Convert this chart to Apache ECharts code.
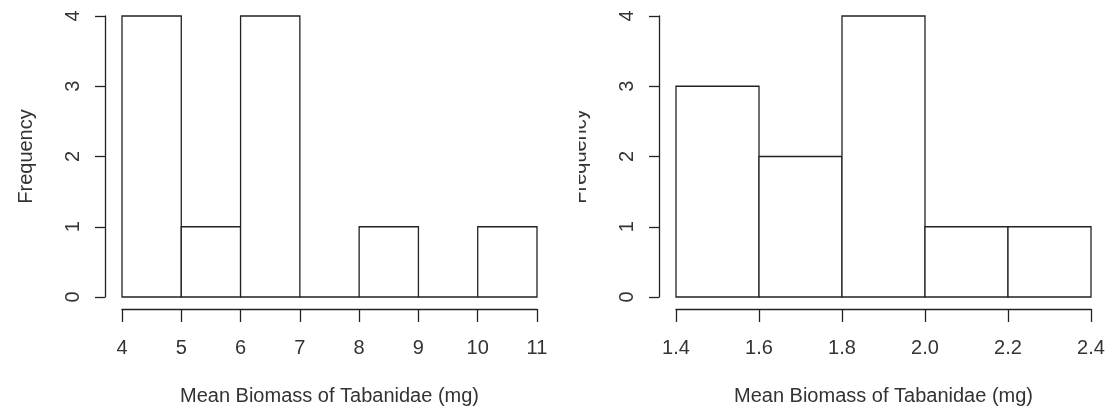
<!DOCTYPE html>
<html>
<head>
<meta charset="utf-8">
<script src="https://cdn.jsdelivr.net/npm/echarts@6/dist/echarts.min.js"></script>
<style>html,body{margin:0;padding:0;background:#fff}#c{width:1112px;height:414px}</style>
</head>
<body>
<div id="c"></div>
<script>
var leftBreaks = [4, 5, 6, 7, 8, 9, 10, 11];
var leftCounts = [4, 1, 4, 0, 1, 0, 1];
var rightBreaks = [1.4, 1.6, 1.8, 2.0, 2.2, 2.4];
var rightCounts = [3, 2, 4, 1, 1];
var yTicks = [0, 1, 2, 3, 4];
var xTitle = 'Mean Biomass of Tabanidae (mg)';
var yTitle = 'Frequency';

function toRects(breaks, counts) {
  var out = [];
  for (var i = 0; i < counts.length; i++) out.push([breaks[i], breaks[i + 1], counts[i]]);
  return out;
}
var txt = '#333';
var ln = '#222';
var font = 'Liberation Sans, Arial, sans-serif';

function renderRect(params, api) {
  var p0 = api.coord([api.value(0), 0]);
  var p1 = api.coord([api.value(1), api.value(2)]);
  return {
    type: 'rect',
    shape: { x: p0[0], y: p1[1], width: p1[0] - p0[0], height: p0[1] - p1[1] },
    style: { fill: '#fff', stroke: ln, lineWidth: 1.3 }
  };
}

function xAx(idx, breaks, interval, dec) {
  return {
    type: 'value', gridIndex: idx,
    min: breaks[0], max: breaks[breaks.length - 1], interval: interval,
    offset: 12,
    name: xTitle, nameLocation: 'middle', nameGap: 77,
    nameTextStyle: { color: txt, fontSize: 20, fontFamily: font },
    axisLine: { show: true, onZero: false, lineStyle: { color: ln, width: 1.3 } },
    axisTick: { show: true, length: 13, lineStyle: { color: ln, width: 1.3 } },
    axisLabel: { color: txt, fontSize: 20, fontFamily: font, margin: 29,
      formatter: function (v) { return dec ? v.toFixed(dec) : String(Math.round(v)); } },
    splitLine: { show: false }
  };
}
function yAx(idx) {
  return {
    type: 'value', gridIndex: idx,
    min: yTicks[0], max: yTicks[yTicks.length - 1], interval: 1,
    offset: 17,
    name: yTitle, nameLocation: 'middle', nameGap: 69, nameRotate: 90,
    nameTextStyle: { color: txt, fontSize: 20, fontFamily: font },
    axisLine: { show: true, onZero: false, lineStyle: { color: ln, width: 1.3 } },
    axisTick: { show: true, length: 10, lineStyle: { color: ln, width: 1.3 } },
    axisLabel: { color: txt, fontSize: 20, fontFamily: font, margin: 22, rotate: 90 },
    splitLine: { show: false }
  };
}

var chart = echarts.init(document.getElementById('c'), null, { renderer: 'canvas' });
chart.setOption({
  animation: false,
  backgroundColor: '#fff',
  grid: [
    { left: 122, width: 415, top: 16, height: 281 },
    { left: 676, width: 415, top: 16, height: 281 }
  ],
  xAxis: [xAx(0, leftBreaks, 1, 0), xAx(1, rightBreaks, 0.2, 1)],
  yAxis: [yAx(0), yAx(1)],
  series: [
    { type: 'custom', xAxisIndex: 0, yAxisIndex: 0, renderItem: renderRect, data: toRects(leftBreaks, leftCounts), clip: false },
    { type: 'custom', xAxisIndex: 1, yAxisIndex: 1, renderItem: renderRect, data: toRects(rightBreaks, rightCounts), clip: false }
  ],
  graphic: [
    { type: 'rect', left: 548, top: 0, z: 100, shape: { width: 31, height: 290 }, style: { fill: '#fff' } }
  ]
});
</script>
</body>
</html>
